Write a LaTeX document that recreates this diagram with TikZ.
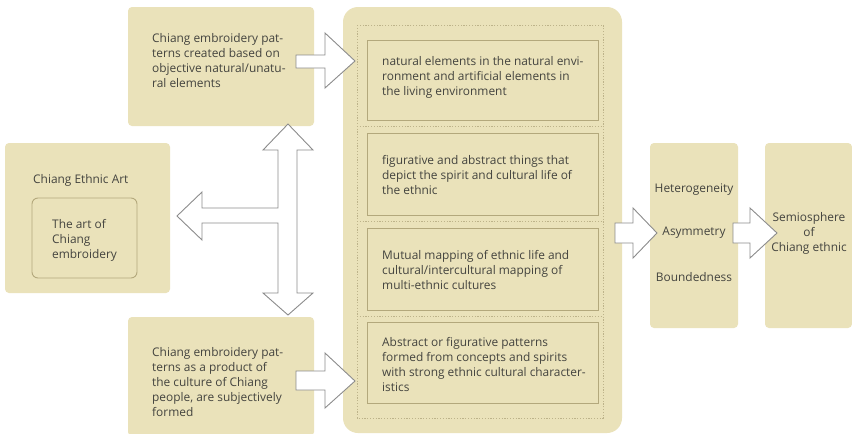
\documentclass[tikz,border=0pt]{standalone}
\usepackage{fontspec}
\setmainfont{Open Sans}
\definecolor{beige}{HTML}{EAE2BA}
\definecolor{olive}{HTML}{B3A87C}
\definecolor{dotc}{HTML}{BDB38A}
\definecolor{txt}{HTML}{44443F}
\definecolor{arr}{HTML}{8C8C8C}
\begin{document}
\begin{tikzpicture}[x=1pt,y=-1pt,
  bg/.style={fill=beige, draw=none, rounded corners=4pt},
  inner/.style={fill=beige, draw=olive, line width=0.9pt},
  tx/.style={text=txt, font=\fontsize{11.9}{15}\selectfont, align=left, anchor=west, inner sep=0pt},
  txc/.style={text=txt, font=\fontsize{11.9}{15}\selectfont, align=center, inner sep=0pt},
  blockarrow/.style={fill=white, draw=arr, line width=0.9pt, line join=miter},
  dots/.style={draw=dotc, dash pattern=on 1.2pt off 1.6pt, line width=0.8pt}]
\useasboundingbox (0,0) rectangle (852,434);
\fill[white] (0,0) rectangle (852,434);

% left column boxes
\draw[bg] (128,7) rectangle (314,126);
\node[coordinate] (tlbox) at (221,66) {};
\draw[bg] (128,317) rectangle (314,436);
\node[coordinate] (blbox) at (221,376) {};
\draw[bg] (5,143) rectangle (170,293);
\node[coordinate] (artbox) at (87,218) {};
\draw[inner, rounded corners=6pt] (32,198) rectangle (137,278);

\node[tx] (tltext) at (152,61) {Chiang embroidery pat-\\terns created based on\\objective natural/unatu-\\ral elements};
\node[tx] (bltext) at (152,382) {Chiang embroidery pat-\\terns as a product of\\the culture of Chiang\\people, are subjectively\\formed};
\node[tx] (arttext) at (33,180) {Chiang Ethnic Art};
\node[tx] (innertext) at (52,240) {The art of\\Chiang\\embroidery};

% central box
\draw[fill=beige, draw=none, rounded corners=15pt] (343,7) rectangle (622,433);
\draw[dots] (357,25) rectangle (603,418);
\draw[dots] (357,126) -- (603,126);
\draw[dots] (357,221) -- (603,221);
\draw[dots] (357,316) -- (603,316);
\draw[inner] (367,40) rectangle (598,120);
\draw[inner] (367,133) rectangle (598,215);
\draw[inner] (367,228) rectangle (598,310);
\draw[inner] (367,322) rectangle (598,403);

\node[tx] (c1) at (382,77) {natural elements in the natural envi-\\ronment and artificial elements in\\the living environment};
\node[tx] (c2) at (382,175) {figurative and abstract things that\\depict the spirit and cultural life of\\the ethnic};
\node[tx] (c3) at (382,270) {Mutual mapping of ethnic life and\\cultural/intercultural mapping of\\multi-ethnic cultures};
\node[tx] (c4) at (382,365) {Abstract or figurative patterns\\formed from concepts and spirits\\with strong ethnic cultural character-\\istics};

% right boxes
\draw[bg] (650,143) rectangle (738,328);
\draw[bg] (765,143) rectangle (852,328);
\node[txc] (het) at (694,190) {Heterogeneity};
\node[txc] (asy) at (694,233) {Asymmetry};
\node[txc] (bou) at (694,277) {Boundedness};
\node[txc] (sem) at (809,233) {Semiosphere\\of\\Chiang ethnic};

% block arrows
\draw[blockarrow] (296,55) -- (325,55) -- (325,33) -- (355,61) -- (325,88) -- (325,68) -- (296,68) -- cycle;
\draw[blockarrow] (296,371) -- (325,371) -- (325,353) -- (355,381) -- (325,408) -- (325,390) -- (296,390) -- cycle;
\draw[blockarrow] (278,150) -- (263,150) -- (288,124) -- (313,150) -- (297,150)
  -- (297,293) -- (313,293) -- (288,315) -- (263,293) -- (278,293)
  -- (278,223) -- (202,223) -- (202,240) -- (177,216) -- (202,192) -- (202,208) -- (278,208) -- cycle;
\draw[blockarrow] (615,223) -- (633,223) -- (633,208) -- (657,233) -- (633,258) -- (633,243) -- (615,243) -- cycle;
\draw[blockarrow] (733,223) -- (750,223) -- (750,208) -- (777,233) -- (750,258) -- (750,243) -- (733,243) -- cycle;
\end{tikzpicture}
\end{document}
